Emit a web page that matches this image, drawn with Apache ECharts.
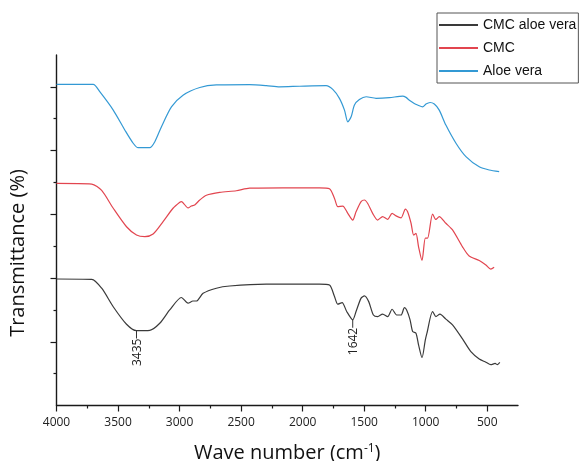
<!DOCTYPE html>
<html>
<head>
<meta charset="utf-8">
<script src="https://cdn.jsdelivr.net/npm/echarts@6/dist/echarts.min.js"></script>
<style>html,body{margin:0;padding:0;background:#fff}#c{width:581px;height:461px}</style>
</head>
<body>
<div id="c"></div>
<script>
// Wavenumbers (cm-1) and transmittance (arbitrary offset units)
const aloeWn = [4000,3702,3647,3539,3444,3377,3337,3242,3201,3147,3066,2972,2836,2701,2431,2295,2187,2025,1809,1755,1701,1660,1633,1606,1579,1539,1484,1403,1295,1187,1160,1133,1093,1066,1025,998,965,930,890,836,754,673,565,484,403];
const aloeT  = [10.08,10.08,9.84,9.27,8.64,8.23,8.09,8.09,8.28,8.75,9.37,9.74,9.98,10.06,10.07,10.04,10.0,10.02,10.04,9.92,9.64,9.27,8.9,9.06,9.43,9.6,9.69,9.64,9.66,9.71,9.67,9.58,9.48,9.43,9.37,9.46,9.51,9.46,9.27,8.8,8.23,7.81,7.49,7.39,7.34];

const cmcWn = [4000,3714,3633,3539,3431,3350,3282,3215,3134,3053,2998,2985,2931,2904,2877,2836,2782,2674,2539,2431,2161,1863,1782,1741,1714,1674,1633,1593,1566,1525,1498,1471,1431,1390,1350,1309,1273,1241,1200,1165,1147,1119,1098,1079,1058,1030,1003,985,944,917,890,836,782,701,647,565,511,471,444];
const cmcT  = [6.97,6.95,6.75,6.19,5.61,5.35,5.3,5.38,5.77,6.19,6.38,6.4,6.2,6.26,6.29,6.45,6.6,6.69,6.74,6.82,6.83,6.83,6.8,6.5,6.24,6.26,6.03,5.82,6.08,6.4,6.45,6.34,6.03,5.82,5.93,5.84,6.03,5.95,5.89,6.16,6.08,5.72,5.35,5.4,4.98,4.55,5.25,5.25,6.01,5.84,5.93,5.72,5.51,4.98,4.69,4.55,4.41,4.28,4.34];

const mixWn = [4000,3714,3633,3539,3431,3350,3242,3161,3080,2985,2931,2891,2863,2809,2701,2593,2295,1863,1782,1741,1714,1679,1642,1593,1566,1525,1498,1463,1425,1390,1350,1309,1273,1236,1200,1173,1155,1127,1106,1079,1058,1030,1003,990,944,917,884,836,782,701,633,565,511,471,436,417,398];
const mixT  = [3.97,3.96,3.68,3.1,2.55,2.35,2.36,2.58,3.0,3.39,3.21,3.28,3.28,3.52,3.68,3.75,3.81,3.81,3.78,3.42,3.18,3.23,2.95,2.69,2.95,3.37,3.44,3.26,2.84,2.79,2.87,2.79,3.02,2.84,2.84,3.07,3.0,2.69,2.32,2.27,1.9,1.5,2.06,2.27,2.95,2.79,2.87,2.71,2.53,2.09,1.69,1.46,1.36,1.28,1.32,1.28,1.35];

// Peak annotations: [label, wavenumber position, transmittance]
const peakLabels = ['3435','1642'];
const peakWn = [3350,1593];
const peakT = [2.35,2.69];

const seriesNames = ['CMC aloe vera','CMC','Aloe vera'];
const xLabelTicks = [500,1000,1500,2000,2500,3000,3500,4000];
const xMinorTicks = [750,1250,1750,2250,2750,3250,3750];
const yMajorTicks = [2,4,6,8,10];
const yMinorTicks = [1,3,5,7,9];

function pairs(xs, ys){ return xs.map((x,i)=>[x, ys[i]]); }

const font = 'Open Sans';
const axisColor = '#1a1a1a';
const chart = echarts.init(document.getElementById('c'));
chart.setOption({
  animation: false,
  backgroundColor: '#fff',
  grid: {left: 56.5, right: 63, top: 55, bottom: 55.5, containLabel: false, outerBoundsMode: 'none'},
  legend: {
    data: seriesNames,
    orient: 'vertical',
    left: 437, top: 13,
    padding: [5, 2, 5, 1],
    itemWidth: 39, itemHeight: 14, itemGap: 9,
    borderColor: '#555', borderWidth: 1,
    itemStyle: {opacity: 0},
    textStyle: {fontFamily: 'Liberation Sans', fontSize: 14, color: '#111'}
  },
  xAxis: [{
    type: 'value', min: 250, max: 4000, inverse: true, position: 'bottom',
    axisLine: {lineStyle: {color: axisColor, width: 1.4}},
    axisTick: {customValues: xLabelTicks, length: 6, lineStyle: {color: axisColor, width: 1.2}},
    axisLabel: {customValues: xLabelTicks, margin: 11, color: '#222', fontFamily: font, fontSize: 12, formatter: v => String(v)},
    splitLine: {show: false},
    name: 'Wave number (cm{sup|-1})', nameLocation: 'middle', nameGap: 37,
    nameTextStyle: {fontFamily: font, fontSize: 20, color: '#111', rich: {sup: {fontFamily: font, fontSize: 12, color: '#111', verticalAlign: 'top', padding: [0,0,10,0]}}}
  }, {
    type: 'value', min: 250, max: 4000, inverse: true, position: 'bottom',
    axisLine: {show: false},
    axisTick: {customValues: xMinorTicks, length: 3, lineStyle: {color: axisColor, width: 1.2}},
    axisLabel: {show: false},
    splitLine: {show: false}
  }],
  yAxis: [{
    type: 'value', min: 0, max: 11, position: 'left',
    axisLine: {show: true, lineStyle: {color: axisColor, width: 1.4}},
    axisTick: {show: true, customValues: yMajorTicks, length: 6, lineStyle: {color: axisColor, width: 1.2}},
    axisLabel: {show: false},
    splitLine: {show: false}
  }, {
    type: 'value', min: 0, max: 11, position: 'left',
    axisLine: {show: false},
    axisTick: {show: true, customValues: yMinorTicks, length: 3, lineStyle: {color: axisColor, width: 1.2}},
    axisLabel: {show: false},
    splitLine: {show: false}
  }],
  graphic: [{
    type: 'text', x: 18, y: 253, rotation: Math.PI / 2,
    style: {text: 'Transmittance (%)', fontFamily: font, fontSize: 20, fill: '#111', align: 'center', verticalAlign: 'middle'}
  }],
  series: [{
    name: seriesNames[0], type: 'line', symbol: 'none', smooth: 0.25, clip: false,
    data: pairs(mixWn, mixT),
    lineStyle: {color: '#3a3a3a', width: 1.2}, itemStyle: {color: '#4a4a66'},
    markPoint: {
      symbol: 'rect', symbolSize: [1, 8], symbolOffset: [0, 4],
      itemStyle: {color: '#333', opacity: 1},
      label: {show: true, formatter: '{b}', position: ['50%', '100%'], offset: [0, 1], rotate: 90, align: 'right', verticalAlign: 'middle', color: '#222', fontFamily: font, fontSize: 12},
      data: peakLabels.map((l, i) => ({name: l, coord: [peakWn[i], peakT[i]]}))
    }
  }, {
    name: seriesNames[1], type: 'line', symbol: 'none', smooth: 0.25, clip: false,
    data: pairs(cmcWn, cmcT),
    lineStyle: {color: '#e2454f', width: 1.2}, itemStyle: {color: '#ee6b6b'}
  }, {
    name: seriesNames[2], type: 'line', symbol: 'none', smooth: 0.25, clip: false,
    data: pairs(aloeWn, aloeT),
    lineStyle: {color: '#3399d4', width: 1.2}, itemStyle: {color: '#3fb0d6'}
  }]
});
</script>
</body>
</html>
